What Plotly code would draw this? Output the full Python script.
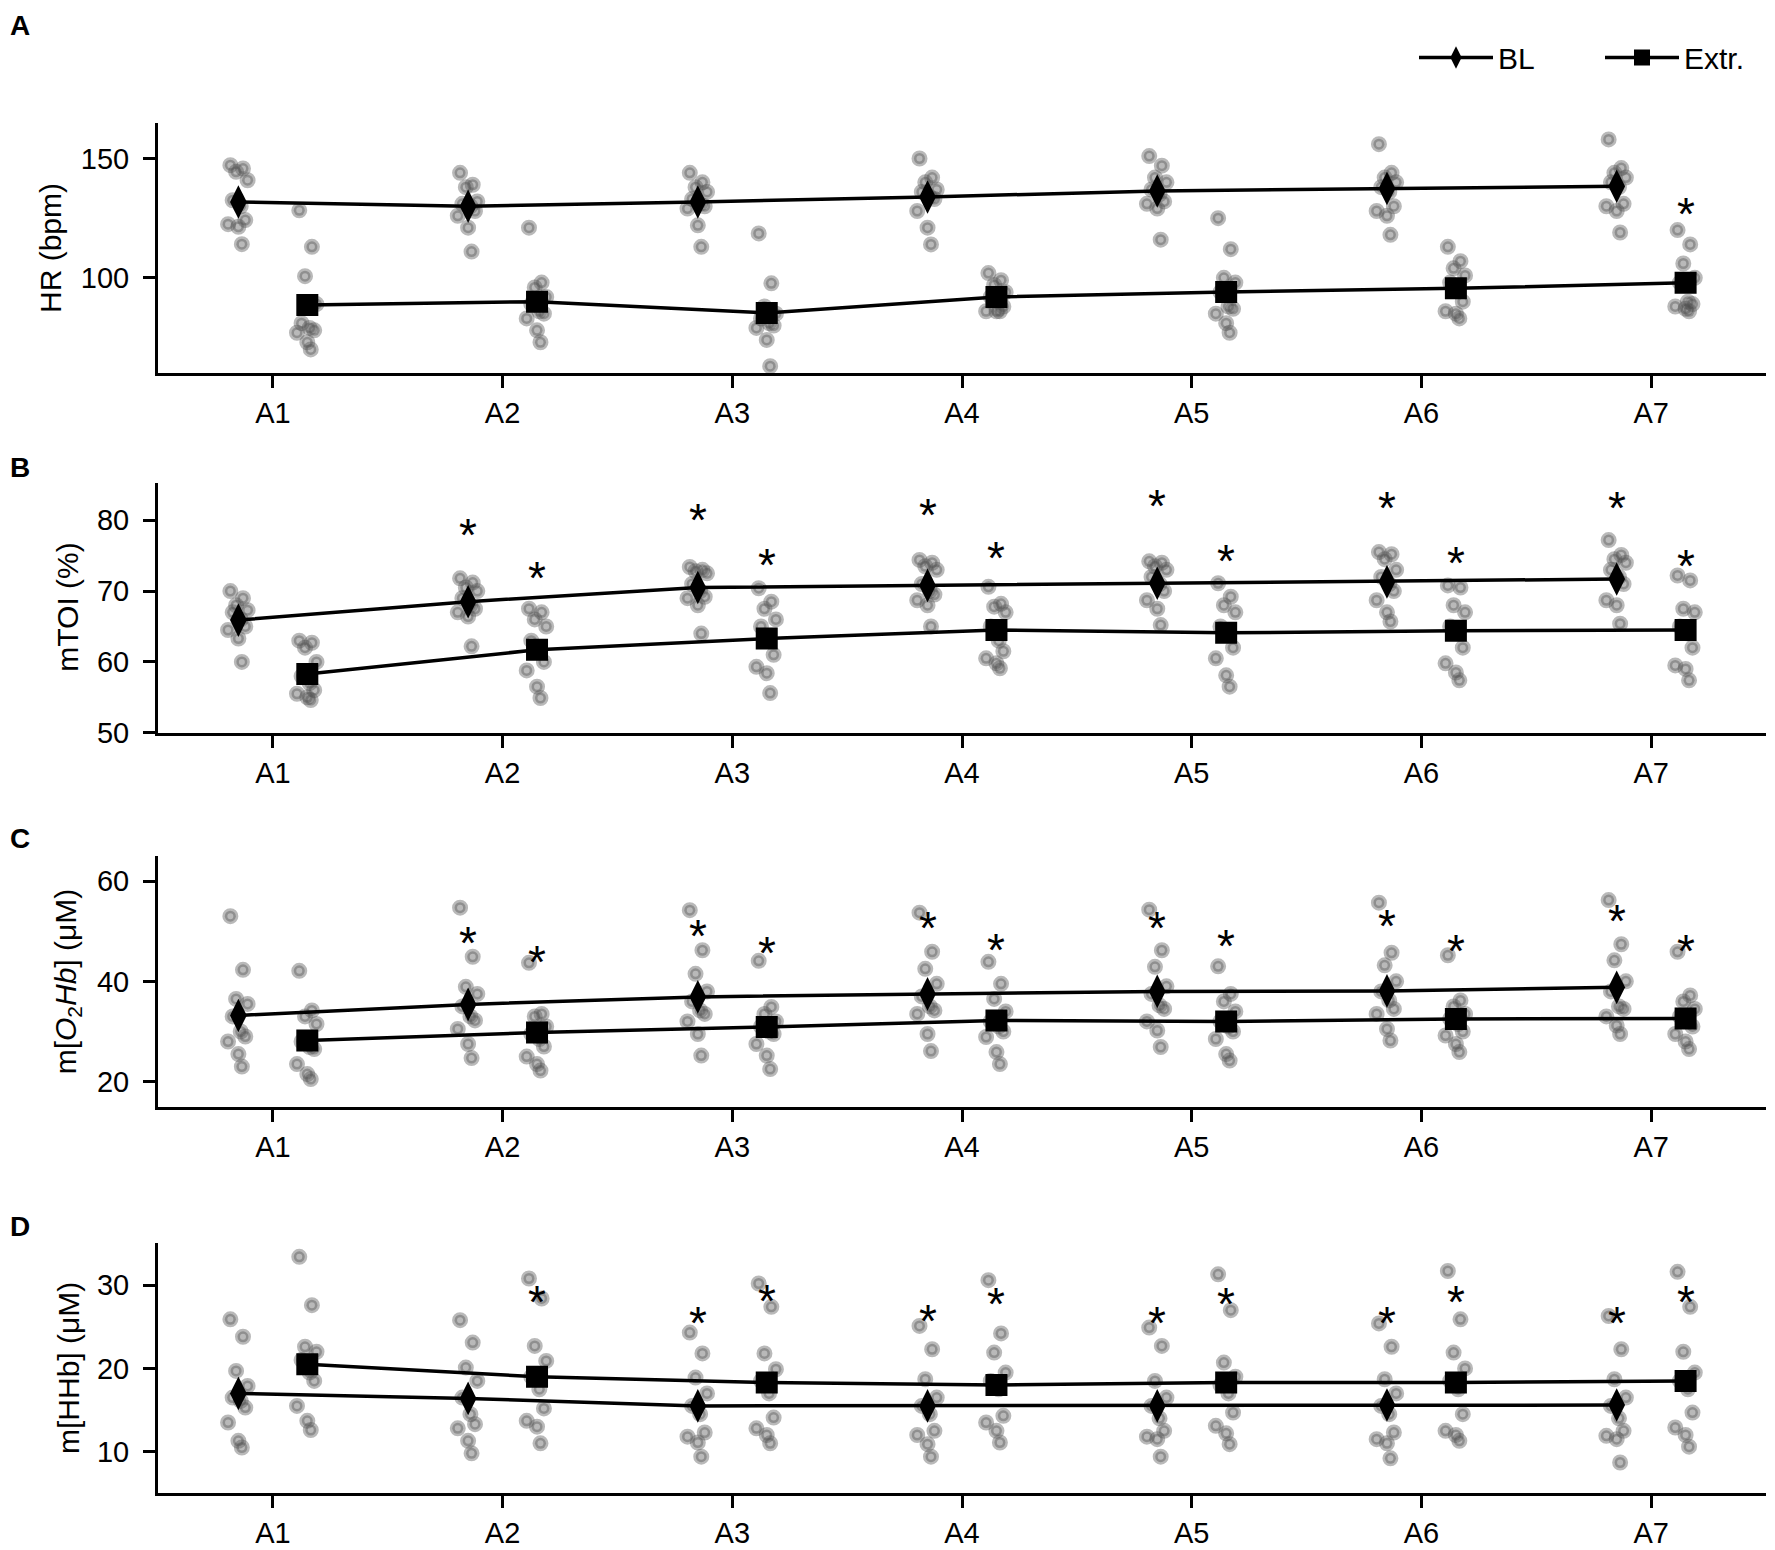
import plotly.graph_objects as go
from plotly.subplots import make_subplots

CATEGORIES = ["A1", "A2", "A3", "A4", "A5", "A6", "A7"]

# ---- A: heart rate
HR_BL_MEAN = [131.8, 130.0, 131.8, 133.9, 136.4, 137.4, 138.4]
HR_EXTR_MEAN = [88.6, 90.0, 85.3, 92.0, 94.1, 95.6, 97.9]
HR_BL_POINTS = [
    [147.2, 145.8, 144.4, 140.9, 132.5, 130.0, 124.2, 122.5, 121.4, 114.1],
    [144.0, 139.0, 138.0, 132.0, 131.0, 130.0, 128.0, 126.0, 121.0, 111.0],
    [144.0, 140.0, 138.0, 136.0, 133.0, 131.0, 130.0, 129.0, 122.0, 113.0],
    [150.0, 142.0, 140.0, 137.0, 136.0, 134.0, 133.0, 128.0, 121.0, 114.0],
    [151.0, 147.0, 142.0, 140.0, 137.0, 135.0, 132.0, 131.0, 129.0, 116.0],
    [156.0, 144.0, 142.0, 140.0, 138.0, 136.0, 130.0, 128.0, 126.0, 118.0],
    [158.0, 146.0, 144.0, 142.0, 140.0, 138.0, 131.0, 130.0, 128.0, 119.0],
]
HR_EXTR_POINTS = [
    [128.3, 113.0, 100.7, 89.0, 81.0, 79.0, 78.0, 77.0, 73.0, 70.0],
    [121.0, 98.0, 96.0, 92.0, 89.0, 86.0, 85.0, 83.0, 78.0, 73.0],
    [118.6, 97.7, 88.0, 85.0, 83.0, 81.0, 80.0, 79.0, 74.0, 63.0],
    [102.0, 99.0, 97.0, 94.0, 92.0, 90.0, 88.0, 86.0, 86.0, 86.0],
    [125.0, 112.0, 100.0, 98.0, 94.0, 88.0, 87.0, 85.0, 81.0, 77.0],
    [113.0, 107.0, 104.0, 101.0, 98.0, 95.0, 90.0, 86.0, 85.0, 83.0],
    [120.0, 114.0, 106.0, 100.0, 98.0, 90.0, 89.0, 88.0, 87.0, 86.0],
]
HR_BL_SIG = [None, None, None, None, None, 166.0, 168.1]
HR_EXTR_SIG = [None, None, None, None, None, None, 129.1]

# ---- B: mTOI
TOI_BL_MEAN = [65.9, 68.5, 70.5, 70.8, 71.1, 71.3, 71.7]
TOI_EXTR_MEAN = [58.3, 61.7, 63.3, 64.5, 64.1, 64.4, 64.5]
TOI_BL_POINTS = [
    [70.0, 69.0, 68.0, 67.3, 67.0, 66.0, 65.0, 64.5, 63.3, 60.0],
    [71.8, 71.2, 70.5, 70.0, 69.0, 68.0, 67.5, 67.0, 66.4, 62.2],
    [73.4, 73.0, 72.8, 72.5, 71.0, 70.0, 69.2, 69.0, 68.0, 64.0],
    [74.4, 74.0, 73.5, 73.0, 71.0, 70.0, 69.5, 68.7, 68.0, 65.0],
    [74.2, 74.0, 73.5, 73.0, 72.0, 71.0, 70.0, 68.7, 67.5, 65.2],
    [75.5, 75.2, 74.5, 73.0, 72.0, 71.0, 70.0, 68.7, 67.0, 65.7],
    [77.2, 75.1, 74.5, 74.0, 73.0, 72.0, 71.0, 68.7, 68.0, 65.4],
]
TOI_EXTR_POINTS = [
    [63.0, 62.7, 62.0, 60.0, 58.0, 57.0, 56.0, 55.5, 55.0, 54.6],
    [67.5, 67.0, 66.0, 65.0, 63.0, 61.5, 60.0, 58.8, 56.5, 54.9],
    [70.4, 68.5, 67.5, 66.0, 65.0, 63.0, 61.0, 59.3, 58.4, 55.6],
    [70.6, 68.2, 67.8, 67.0, 65.0, 63.0, 61.5, 60.5, 59.8, 59.1],
    [71.1, 69.2, 68.0, 67.0, 65.0, 64.0, 62.0, 60.5, 58.1, 56.5],
    [70.8, 70.5, 68.0, 67.0, 65.0, 64.0, 62.0, 59.8, 58.5, 57.4],
    [72.2, 71.5, 67.5, 67.0, 65.0, 64.0, 62.0, 59.5, 59.0, 57.4],
]
TOI_BL_SIG = [None, 78.8, 80.9, 81.6, 82.8, 82.6, 82.6]
TOI_EXTR_SIG = [None, 72.7, 74.5, 75.5, 75.1, 74.8, 74.4]

# ---- C: O2Hb
O2HB_BL_MEAN = [33.2, 35.4, 36.9, 37.5, 38.0, 38.1, 38.8]
O2HB_EXTR_MEAN = [28.2, 29.8, 30.9, 32.2, 32.0, 32.5, 32.6]
O2HB_BL_POINTS = [
    [53.0, 42.3, 36.5, 35.5, 33.0, 30.0, 29.0, 28.0, 25.5, 23.0],
    [54.7, 44.9, 38.9, 37.5, 35.0, 33.0, 32.2, 30.5, 27.5, 24.7],
    [54.2, 46.2, 41.5, 38.0, 36.0, 34.2, 33.5, 32.0, 29.5, 25.2],
    [53.7, 45.9, 42.5, 39.5, 37.0, 35.0, 34.2, 33.5, 29.5, 26.1],
    [54.3, 46.2, 42.9, 39.0, 37.5, 35.2, 34.5, 32.0, 30.2, 26.9],
    [55.7, 45.7, 43.2, 40.0, 38.0, 36.2, 34.5, 33.5, 30.5, 28.2],
    [56.2, 47.4, 44.2, 40.0, 38.0, 35.0, 34.5, 33.0, 31.2, 29.5],
]
O2HB_EXTR_POINTS = [
    [42.1, 34.2, 33.0, 31.5, 28.0, 26.9, 26.5, 23.5, 21.5, 20.5],
    [43.7, 33.5, 33.0, 31.0, 29.5, 28.5, 27.0, 25.0, 23.5, 22.2],
    [44.1, 34.9, 33.5, 32.0, 31.0, 30.0, 29.5, 27.5, 25.2, 22.5],
    [43.9, 39.5, 36.5, 34.0, 32.0, 31.0, 30.0, 28.9, 25.9, 23.5],
    [43.0, 37.5, 36.0, 34.0, 32.0, 31.0, 30.0, 28.5, 25.5, 24.2],
    [45.2, 36.2, 35.0, 33.5, 32.5, 31.5, 30.0, 29.2, 27.5, 25.9],
    [45.9, 37.2, 36.0, 34.5, 33.0, 32.5, 31.0, 29.5, 28.0, 26.5],
]
O2HB_BL_SIG = [None, 48.9, 50.3, 51.9, 51.9, 52.3, 53.2]
O2HB_EXTR_SIG = [None, 45.0, 46.9, 47.5, 48.2, 47.2, 47.2]

# ---- D: HHb
HHB_BL_MEAN = [17.0, 16.4, 15.5, 15.5, 15.5, 15.6, 15.6]
HHB_EXTR_MEAN = [20.5, 19.0, 18.3, 18.0, 18.3, 18.3, 18.5]
HHB_BL_POINTS = [
    [25.9, 23.8, 19.7, 17.9, 16.5, 16.1, 15.3, 13.5, 11.3, 10.5],
    [25.8, 23.1, 20.1, 18.5, 16.5, 14.5, 13.3, 12.8, 11.3, 9.8],
    [24.3, 21.8, 18.9, 17.0, 15.5, 14.5, 12.3, 11.8, 11.1, 9.4],
    [25.1, 22.3, 18.7, 16.5, 15.5, 14.5, 12.5, 12.0, 10.9, 9.4],
    [24.9, 22.7, 18.5, 16.5, 15.5, 14.0, 12.5, 11.8, 11.5, 9.4],
    [25.4, 22.6, 18.7, 17.0, 15.5, 14.5, 12.3, 11.5, 11.0, 9.2],
    [26.3, 22.3, 18.7, 16.5, 15.5, 14.0, 12.5, 11.9, 11.5, 8.7],
]
HHB_EXTR_POINTS = [
    [33.4, 27.6, 22.6, 22.0, 21.0, 19.5, 18.5, 15.5, 13.7, 12.6],
    [30.8, 28.4, 22.7, 20.9, 19.0, 17.5, 15.2, 13.7, 13.0, 11.0],
    [30.2, 27.4, 21.8, 19.9, 18.5, 17.0, 14.1, 12.8, 12.0, 11.0],
    [30.6, 24.2, 21.9, 19.5, 18.5, 17.5, 14.3, 13.5, 12.5, 11.1],
    [31.3, 27.0, 20.7, 19.0, 18.0, 17.0, 14.7, 13.1, 12.2, 10.9],
    [31.7, 25.9, 21.9, 20.0, 18.5, 17.5, 14.5, 12.5, 12.0, 11.3],
    [31.6, 27.4, 22.0, 19.5, 18.5, 17.5, 14.7, 12.9, 12.0, 10.6],
]
HHB_BL_SIG = [None, None, 26.2, 26.4, 26.2, 26.2, 26.2]
HHB_EXTR_SIG = [None, 28.7, 28.8, 28.4, 28.4, 28.7, 28.7]

panels = [
    dict(label="A", title="HR (bpm)", rng=[60, 165], ticks=[100, 150],
         bl_mean=HR_BL_MEAN, ex_mean=HR_EXTR_MEAN, bl_pts=HR_BL_POINTS, ex_pts=HR_EXTR_POINTS,
         bl_sig=HR_BL_SIG, ex_sig=HR_EXTR_SIG, top=122.7, bottom=373.3, title_x=50, label_y=25.5),
    dict(label="B", title="mTOI (%)", rng=[50, 85.3], ticks=[50, 60, 70, 80],
         bl_mean=TOI_BL_MEAN, ex_mean=TOI_EXTR_MEAN, bl_pts=TOI_BL_POINTS, ex_pts=TOI_EXTR_POINTS,
         bl_sig=TOI_BL_SIG, ex_sig=TOI_EXTR_SIG, top=482.7, bottom=732.7, title_x=68, label_y=467.5),
    dict(label="C", title="m[<i>O</i><sub>2</sub><i>Hb</i>] (μM)", rng=[15, 65], ticks=[20, 40, 60],
         bl_mean=O2HB_BL_MEAN, ex_mean=O2HB_EXTR_MEAN, bl_pts=O2HB_BL_POINTS, ex_pts=O2HB_EXTR_POINTS,
         bl_sig=O2HB_BL_SIG, ex_sig=O2HB_EXTR_SIG, top=856.0, bottom=1106.7, title_x=67, label_y=838.5),
    dict(label="D", title="m[HHb] (μM)", rng=[5, 35.1], ticks=[10, 20, 30],
         bl_mean=HHB_BL_MEAN, ex_mean=HHB_EXTR_MEAN, bl_pts=HHB_BL_POINTS, ex_pts=HHB_EXTR_POINTS,
         bl_sig=HHB_BL_SIG, ex_sig=HHB_EXTR_SIG, top=1242.7, bottom=1493.3, title_x=68, label_y=1226.5),
]

W, H = 1775, 1550


def px_x(px):
    return px / W


def px_y(py):
    return 1 - py / H


FONT = "Liberation Sans, Arial, sans-serif"
OFFSET = 0.15
JITTER = [-0.035, 0.02, -0.01, 0.04, -0.025, 0.01, 0.03, -0.045, 0.0, 0.015]
PT_COLOR = "rgba(80,80,80,0.4)"

fig = make_subplots(rows=4, cols=1)

annotations = []
for i, p in enumerate(panels):
    r = i + 1
    xs = list(range(len(CATEGORIES)))
    for pts, off in ((p["bl_pts"], -OFFSET), (p["ex_pts"], OFFSET)):
        px, py = [], []
        for k, vals in enumerate(pts):
            for j, v in enumerate(vals):
                px.append(k + off + JITTER[j % len(JITTER)])
                py.append(v)
        fig.add_trace(go.Scatter(
            x=px, y=py, mode="markers", showlegend=False, hoverinfo="skip",
            marker=dict(symbol="circle", size=11, color=PT_COLOR,
                        line=dict(width=5, color=PT_COLOR)),
        ), row=r, col=1)
    fig.add_trace(go.Scatter(
        x=[x - OFFSET for x in xs], y=p["bl_mean"], mode="lines+markers", name="BL",
        showlegend=(i == 0), legend="legend",
        line=dict(color="black", width=3.5),
        marker=dict(symbol="diamond-tall", size=24, color="black"),
    ), row=r, col=1)
    fig.add_trace(go.Scatter(
        x=[x + OFFSET for x in xs], y=p["ex_mean"], mode="lines+markers", name="Extr.",
        showlegend=(i == 0), legend="legend2",
        line=dict(color="black", width=3.5),
        marker=dict(symbol="square", size=22, color="black"),
    ), row=r, col=1)

    xa = "x" if r == 1 else f"x{r}"
    ya = "y" if r == 1 else f"y{r}"
    for sig, off in ((p["bl_sig"], -OFFSET), (p["ex_sig"], OFFSET)):
        for k, s in enumerate(sig):
            if s is None:
                continue
            annotations.append(dict(x=k + off, y=s, xref=xa, yref=ya, text="*",
                                    showarrow=False, yanchor="middle", yshift=-6,
                                    font=dict(size=46, color="black", family=FONT)))
    annotations.append(dict(x=px_x(p["title_x"]), y=px_y((p["top"] + p["bottom"]) / 2),
                            xref="paper", yref="paper", text=p["title"], textangle=-90,
                            showarrow=False, xanchor="center", yanchor="middle",
                            font=dict(size=30, color="black", family=FONT)))
    annotations.append(dict(x=px_x(8), y=px_y(p["label_y"]), xref="paper", yref="paper",
                            text=f"<b>{p['label']}</b>", showarrow=False,
                            xanchor="left", yanchor="middle",
                            font=dict(size=28, color="black", family=FONT)))

    axis_common = dict(showline=True, linecolor="black", linewidth=3, ticks="outside",
                       ticklen=12, tickwidth=2.5, tickcolor="black", showgrid=False,
                       zeroline=False, tickfont=dict(size=29, color="black", family=FONT),
                       automargin=False)
    fig.update_xaxes(axis_common, row=r, col=1, range=[-0.5, 6.5],
                     tickvals=xs, ticktext=CATEGORIES, ticklabelstandoff=0,
                     domain=[px_x(158), px_x(1766)])
    fig.update_yaxes(axis_common, row=r, col=1, range=p["rng"], tickvals=p["ticks"],
                     ticklabelstandoff=8,
                     domain=[px_y(p["bottom"]), px_y(p["top"])])

legend_style = dict(orientation="h", y=px_y(57.5), xanchor="left", yanchor="middle",
                    font=dict(size=30, color="black", family=FONT), itemwidth=74,
                    bgcolor="rgba(0,0,0,0)")

fig.update_layout(
    width=W, height=H,
    margin=dict(l=0, r=0, t=0, b=0),
    plot_bgcolor="white", paper_bgcolor="white",
    font=dict(family=FONT, color="black"),
    annotations=annotations,
    legend=dict(legend_style, x=px_x(1414)),
    legend2=dict(legend_style, x=px_x(1600)),
)

fig.write_html("out.html", config={"displayModeBar": False},
               post_script="document.body.style.margin='0px';"
                           "document.body.style.overflow='hidden';")
